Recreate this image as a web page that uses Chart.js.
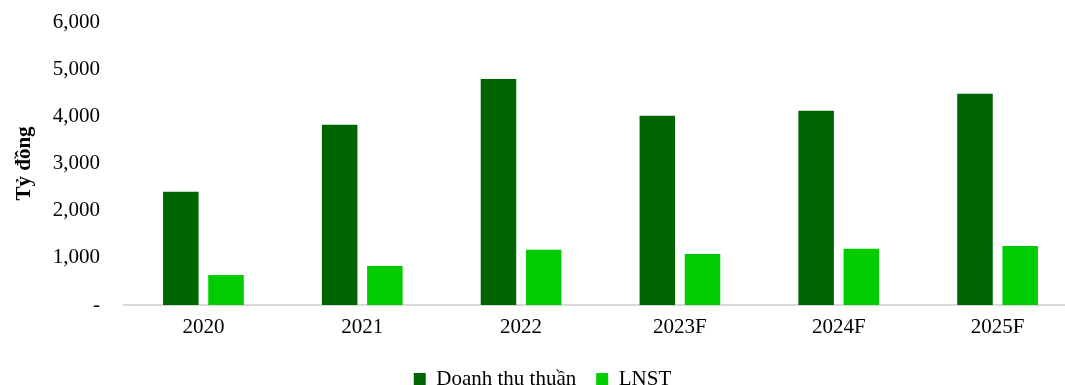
<!DOCTYPE html>
<html>
<head>
<meta charset="utf-8">
<script src="https://cdn.jsdelivr.net/npm/chart.js@4/dist/chart.umd.min.js"></script>
<style>
  html, body { margin: 0; padding: 0; background: #fff; overflow: hidden; }
  #wrap { width: 1094px; height: 385px; }
</style>
</head>
<body>
<div id="wrap"><canvas id="chart" width="1094" height="385"></canvas></div>
<script>
var years = ['2020', '2021', '2022', '2023F', '2024F', '2025F'];
var revenue = [2400, 3820, 4790, 4015, 4120, 4480];
var profit = [635, 825, 1170, 1080, 1190, 1250];
var yTicks = [0, 1000, 2000, 3000, 4000, 5000, 6000];

var serif = 'Liberation Serif, Times New Roman, serif';

var ctx = document.getElementById('chart').getContext('2d');
var chart = new Chart(ctx, {
  type: 'bar',
  data: {
    labels: years,
    datasets: [
      {
        label: 'Doanh thu thuần',
        data: revenue,
        backgroundColor: '#006400',
        categoryPercentage: 0.569,
        barPercentage: 0.786
      },
      {
        label: 'LNST',
        data: profit,
        backgroundColor: '#00cc00',
        categoryPercentage: 0.569,
        barPercentage: 0.786
      }
    ]
  },
  options: {
    responsive: false,
    animation: false,
    layout: { padding: { left: 8, right: 17, top: 0, bottom: -14.5 } },
    plugins: {
      tooltip: { enabled: false },
      legend: {
        position: 'bottom',
        labels: {
          color: '#000',
          font: { family: serif, size: 21 },
          boxWidth: 12,
          boxHeight: 12,
          padding: 20
        }
      }
    },
    scales: {
      x: {
        grid: { display: false, drawTicks: false },
        border: { color: '#d9d9d9', width: 2 },
        ticks: {
          color: '#000',
          font: { family: serif, size: 21 },
          padding: 10
        },
        afterFit: function(scale) { scale.height = 43.5; }
      },
      y: {
        min: 0,
        max: 6000,
        afterBuildTicks: function(scale) {
          scale.ticks = yTicks.map(function(v) { return { value: v }; });
        },
        grid: { display: false, drawTicks: false },
        border: { display: false },
        ticks: {
          color: '#000',
          font: { family: serif, size: 21 },
          padding: 24,
          callback: function(v) {
            return v === 0 ? '-' : v.toLocaleString('en-US');
          }
        },
        title: {
          display: true,
          text: 'Tỷ đồng',
          color: '#000',
          font: { family: serif, size: 21, weight: 'bold' }
        },
        afterFit: function(scale) {
          scale.width = 116;
          scale.paddingTop = 22;
          scale.paddingBottom = 0;
        }
      }
    }
  }
});
</script>
</body>
</html>
